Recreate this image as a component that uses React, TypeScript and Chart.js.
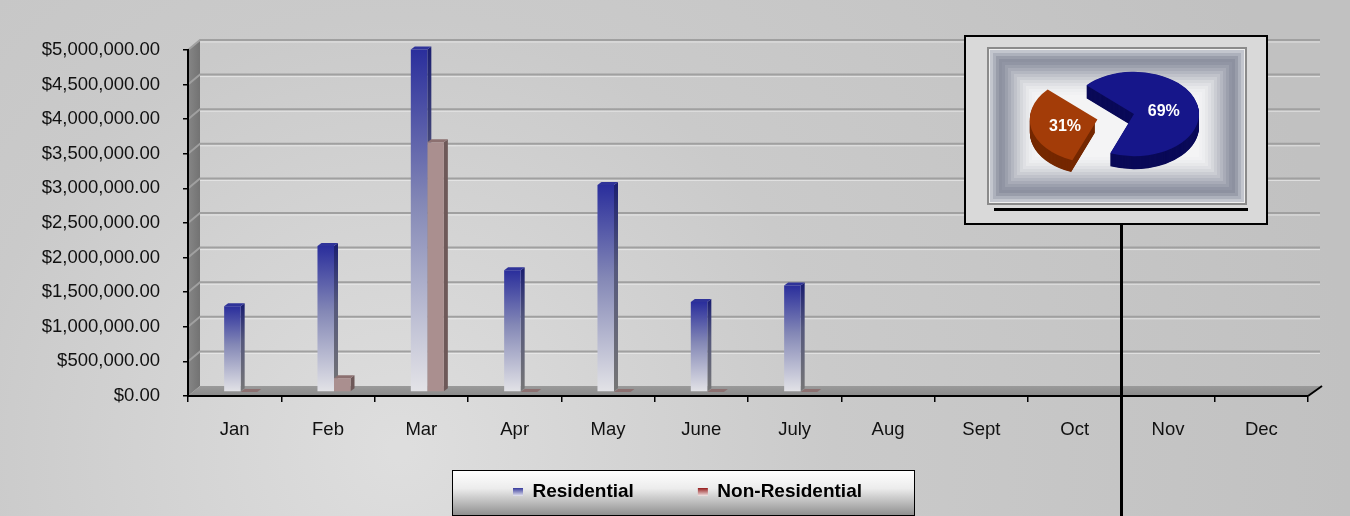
import React, { useEffect, useRef } from 'react';
import { Chart, registerables } from 'chart.js';

Chart.register(...registerables);

// ---------- data ----------
const months = ['Jan', 'Feb', 'Mar', 'Apr', 'May', 'June', 'July', 'Aug', 'Sept', 'Oct', 'Nov', 'Dec'];
const residential = [1240000, 2110000, 4950000, 1760000, 2990000, 1300000, 1540000, null, null, null, null, null];
const nonResidential = [0, 200000, 3610000, 0, 0, 0, 0, null, null, null, null, null];
const seriesNames = ['Residential', 'Non-Residential'];
const yMax = 5000000;
const yStep = 500000;
const pieShares = [69, 31];

// ---------- style ----------
const FONT = "'Liberation Sans', Arial, Helvetica, sans-serif";
const DX = 12; // wall depth x
const DY = -10; // wall depth y
const BX = 6; // bar shift (mid depth)
const BY = -4;
const BDX = 4; // bar depth
const BDY = -3;
const PIE_TILT = 0.65;
const PIE_DEPTH = 13;
const PIE_SIZE = 300;
const PIE_CX = 1134;
const PIE_CY = 114;
const legendSwatchTop = ['#363a9c', '#961c1c'];
const legendSwatchBottom = ['#e6e6f0', '#f2e6e6'];
const pieTop = ['#16168a', '#a33c08'];
const pieSide = ['#0a0a58', '#752800'];
const frameBands = ['#c3c6ce', '#adb1bc', '#999daa', '#8d91a0', '#9195a4', '#9ca0ad', '#a8abb7', '#b4b7c1', '#c0c2ca', '#cbcdd3', '#d6d8dc', '#dfe0e4', '#e7e8ea', '#edeef0', '#f1f1f3', '#f4f4f5'];

const money = (v: number) =>
  '$' + Number(v).toLocaleString('en-US', { minimumFractionDigits: 2, maximumFractionDigits: 2 });

const scenePlugin = {
  id: 'scene3d',
  beforeDraw(chart: any) {
    const { ctx, chartArea: a, width, height } = chart;
    ctx.save();
    const bg = ctx.createRadialGradient(400, 450, 10, 400, 450, 950);
    bg.addColorStop(0, '#dedede');
    bg.addColorStop(0.45, '#cacaca');
    bg.addColorStop(1, '#c1c1c1');
    ctx.fillStyle = bg;
    ctx.fillRect(0, 0, width, height);

    // legend frame + gradient swatches
    const lg = chart.legend;
    if (lg && lg.legendHitBoxes && lg.legendHitBoxes.length) {
      const hb = lg.legendHitBoxes;
      const l = hb[0].left;
      const r = hb[hb.length - 1].left + hb[hb.length - 1].width;
      const cx = (l + r) / 2 - 4.5;
      const cy = hb[0].top + hb[0].height / 2;
      const bw = 462;
      const bh = 45;
      const x0 = Math.round(cx - bw / 2) + 0.5;
      const y0 = Math.round(cy - 22.5) + 0.5;
      const lgG = ctx.createLinearGradient(0, y0, 0, y0 + bh);
      lgG.addColorStop(0, '#ffffff');
      lgG.addColorStop(0.4, '#ececec');
      lgG.addColorStop(1, '#8e8e8e');
      ctx.fillStyle = lgG;
      ctx.fillRect(x0, y0, bw, bh);
      ctx.strokeStyle = '#000';
      ctx.lineWidth = 1;
      ctx.strokeRect(x0, y0, bw, bh);
      (lg.legendItems || []).forEach((item: any, i: number) => {
        const h = hb[i];
        if (!h) return;
        const top = h.top + (h.height - 8) / 2;
        const g = ctx.createLinearGradient(0, top, 0, top + 8);
        g.addColorStop(0, legendSwatchTop[i]);
        g.addColorStop(1, legendSwatchBottom[i]);
        item.fillStyle = g;
        item.strokeStyle = 'rgba(0,0,0,0)';
      });
    }

    const L = a.left, R = a.right, T = a.top, B = a.bottom;
    // left wall
    const wg = ctx.createLinearGradient(L, 0, L + DX, 0);
    wg.addColorStop(0, '#868686');
    wg.addColorStop(1, '#737373');
    ctx.fillStyle = wg;
    ctx.beginPath();
    ctx.moveTo(L, B);
    ctx.lineTo(L + DX, B + DY);
    ctx.lineTo(L + DX, T + DY);
    ctx.lineTo(L, T);
    ctx.closePath();
    ctx.fill();
    // floor
    const fg = ctx.createLinearGradient(0, B + DY, 0, B);
    fg.addColorStop(0, '#9a9a9a');
    fg.addColorStop(1, '#8a8a8a');
    ctx.fillStyle = fg;
    ctx.beginPath();
    ctx.moveTo(L, B);
    ctx.lineTo(R, B);
    ctx.lineTo(R + DX, B + DY);
    ctx.lineTo(L + DX, B + DY);
    ctx.closePath();
    ctx.fill();
    // back-wall grid lines
    const ys = chart.scales.y;
    ys.ticks.forEach((t: any) => {
      if (t.value === 0) return;
      const y = ys.getPixelForValue(t.value);
      ctx.strokeStyle = 'rgba(240,240,240,0.7)';
      ctx.lineWidth = 1;
      ctx.beginPath();
      ctx.moveTo(L + DX, y + DY + 2);
      ctx.lineTo(R + DX, y + DY + 2);
      ctx.stroke();
      ctx.strokeStyle = '#a0a0a0';
      ctx.lineWidth = 2;
      ctx.beginPath();
      ctx.moveTo(L, y);
      ctx.lineTo(L + DX, y + DY);
      ctx.lineTo(R + DX, y + DY);
      ctx.stroke();
    });
    ctx.restore();
  },
  beforeDatasetsDraw(chart: any) {
    const { ctx } = chart;
    ctx.save();
    ctx.translate(BX, BY);
    chart.data.datasets.forEach((ds: any, di: number) => {
      const meta = chart.getDatasetMeta(di);
      meta.data.forEach((el: any, i: number) => {
        const v = ds.data[i];
        if (v == null) return;
        const { x, y, base, width } = el.getProps(['x', 'y', 'base', 'width'], true);
        if (!isFinite(y)) return;
        const l = x - width / 2;
        const r = x + width / 2;
        let side: any;
        if (di === 0) {
          side = ctx.createLinearGradient(0, y, 0, base);
          side.addColorStop(0, '#1c2070');
          side.addColorStop(0.4, '#55587c');
          side.addColorStop(1, '#767676');
        } else {
          side = '#6e5959';
        }
        ctx.fillStyle = side;
        ctx.beginPath();
        ctx.moveTo(r, y);
        ctx.lineTo(r + BDX, y + BDY);
        ctx.lineTo(r + BDX, base + BDY);
        ctx.lineTo(r, base);
        ctx.closePath();
        ctx.fill();
        ctx.fillStyle = di === 0 ? '#2f3399' : '#8c7070';
        ctx.beginPath();
        ctx.moveTo(l, y);
        ctx.lineTo(l + BDX, y + BDY);
        ctx.lineTo(r + BDX, y + BDY);
        ctx.lineTo(r, y);
        ctx.closePath();
        ctx.fill();
      });
    });
  },
  afterDatasetsDraw(chart: any) {
    chart.ctx.restore();
  },
  afterDraw(chart: any) {
    const { ctx, chartArea: a } = chart;
    ctx.save();
    // axis end diagonal
    ctx.strokeStyle = '#000';
    ctx.lineWidth = 2;
    ctx.beginPath();
    ctx.moveTo(a.right, a.bottom);
    ctx.lineTo(a.right + DX + 2, a.bottom + DY);
    ctx.stroke();
    // inset box
    ctx.fillStyle = '#d9d9d9';
    ctx.fillRect(965, 36, 302, 188);
    ctx.lineWidth = 2;
    ctx.strokeRect(965, 36, 302, 188);
    // inner framed panel with concentric bands
    const fx = 987, fy = 47, fw = 260, fh = 158;
    ctx.fillStyle = '#8a8a8a';
    ctx.fillRect(fx, fy, fw, fh);
    ctx.fillStyle = '#eeeeee';
    ctx.fillRect(fx + 2, fy + 2, fw - 4, fh - 4);
    frameBands.forEach((col, i) => {
      const k = 3 + i * 3;
      ctx.fillStyle = col;
      ctx.fillRect(fx + k, fy + k, fw - 2 * k, fh - 2 * k);
    });
    // shadow under inner frame
    ctx.fillStyle = '#000';
    ctx.fillRect(994, 208, 254, 3);
    // pointer line
    ctx.fillRect(1120, 224, 3, 300);
    ctx.restore();
  },
};

const arcShift = (el: any) => {
  const off = (el.options.offset || 0) / 4;
  const fix = 1 - Math.sin(Math.min(Math.PI, el.circumference || 0));
  return off * (1 + fix);
};

const piePlugin = {
  id: 'pie3d',
  beforeDatasetsDraw(chart: any) {
    const { ctx } = chart;
    const meta = chart.getDatasetMeta(0);
    const cx = meta.data[0].x;
    const cy = meta.data[0].y;
    ctx.save();
    ctx.translate(cx, cy);
    ctx.scale(1, PIE_TILT);
    ctx.translate(-cx, -cy);
    for (let d = PIE_DEPTH; d > 0; d -= 0.5) {
      meta.data.forEach((el: any, i: number) => {
        const { x, y, startAngle, endAngle, outerRadius } = el;
        if (!(outerRadius > 0)) return;
        const t = arcShift(el);
        const mid = (startAngle + endAngle) / 2;
        const px = x + Math.cos(mid) * t;
        const py = y + Math.sin(mid) * t + d / PIE_TILT;
        ctx.fillStyle = pieSide[i];
        ctx.beginPath();
        ctx.moveTo(px, py);
        ctx.arc(px, py, outerRadius, startAngle, endAngle);
        ctx.closePath();
        ctx.fill();
      });
    }
  },
  afterDatasetsDraw(chart: any) {
    const { ctx } = chart;
    ctx.restore();
    const meta = chart.getDatasetMeta(0);
    const ds = chart.data.datasets[0];
    ctx.save();
    ctx.fillStyle = '#ffffff';
    ctx.font = `bold 16px ${FONT}`;
    ctx.textAlign = 'center';
    ctx.textBaseline = 'middle';
    meta.data.forEach((el: any, i: number) => {
      const { x, y, startAngle, endAngle, outerRadius } = el;
      const t = arcShift(el);
      const mid = (startAngle + endAngle) / 2;
      const dist = t + 0.47 * outerRadius;
      const lx = x + Math.cos(mid) * dist;
      const ly = y + Math.sin(mid) * dist * PIE_TILT + 2;
      ctx.fillText(`${ds.data[i]}%`, lx, ly);
    });
    ctx.restore();
  },
};

export default function App() {
  const mainRef = useRef<HTMLCanvasElement>(null);
  const pieRef = useRef<HTMLCanvasElement>(null);

  useEffect(() => {
    const main = new Chart(mainRef.current as HTMLCanvasElement, {
      type: 'bar',
      data: {
        labels: months,
        datasets: [
          {
            label: seriesNames[0],
            data: residential,
            backgroundColor: (c: any) => {
              const chart = c.chart;
              const ys = chart.scales && chart.scales.y;
              const v = c.raw;
              if (!ys || v == null || c.type !== 'data') return '#5a5fb0';
              const top = ys.getPixelForValue(v);
              const base = ys.getPixelForValue(0);
              if (!isFinite(top) || base - top < 1) return '#2c3199';
              const g = chart.ctx.createLinearGradient(0, top, 0, base);
              g.addColorStop(0, '#2a2e9c');
              g.addColorStop(0.45, '#8488b6');
              g.addColorStop(1, '#e3e3e7');
              return g;
            },
            borderWidth: 0,
            categoryPercentage: 0.354,
            barPercentage: 1,
            clip: false,
          } as any,
          {
            label: seriesNames[1],
            data: nonResidential,
            backgroundColor: '#aa8f8f',
            borderWidth: 0,
            categoryPercentage: 0.354,
            barPercentage: 1,
            clip: false,
          } as any,
        ],
      },
      options: {
        responsive: false,
        animation: false,
        events: [],
        layout: { padding: { left: 25, right: 0, top: 50, bottom: 4.5 } },
        plugins: {
          tooltip: { enabled: false },
          legend: {
            display: true,
            position: 'bottom',
            labels: {
              font: { family: FONT, size: 19, weight: 'bold' },
              color: '#000',
              boxWidth: 10,
              boxHeight: 8,
              padding: 64,
              generateLabels: () =>
                seriesNames.map((n, i) => ({
                  text: n,
                  fillStyle: legendSwatchTop[i],
                  strokeStyle: 'rgba(0,0,0,0)',
                  lineWidth: 0,
                  hidden: false,
                  datasetIndex: i,
                })),
            },
          },
        },
        scales: {
          x: {
            grid: { display: true, drawOnChartArea: false, drawTicks: true, tickLength: 6, color: '#000', lineWidth: 1.5, offset: true },
            border: { display: true, color: '#000', width: 2 },
            ticks: { font: { family: FONT, size: 18.5 }, color: '#111', padding: -45, mirror: true, maxRotation: 0, autoSkip: false },
            afterFit: (s: any) => {
              s.height = 22.5;
            },
          },
          y: {
            min: 0,
            max: yMax,
            ticks: { stepSize: yStep, callback: (v: any) => money(v), font: { family: FONT, size: 18.5 }, color: '#111', padding: 23 },
            grid: { display: true, drawOnChartArea: false, drawTicks: true, tickLength: 5, color: '#000', lineWidth: 1.5 },
            border: { display: true, color: '#000', width: 2 },
            afterFit: (s: any) => {
              s.width = 163;
            },
          },
          yRight: {
            type: 'linear',
            position: 'right',
            display: true,
            grid: { display: false, drawTicks: false },
            border: { display: false },
            ticks: { display: false },
            afterFit: (s: any) => {
              s.width = 42;
            },
          },
        },
      } as any,
      plugins: [scenePlugin],
    });

    const pie = new Chart(pieRef.current as HTMLCanvasElement, {
      type: 'pie',
      data: {
        labels: seriesNames,
        datasets: [
          {
            data: pieShares,
            backgroundColor: pieTop,
            borderWidth: 0,
            offset: [0, 150],
            radius: 65,
            rotation: -47,
            clip: false,
          } as any,
        ],
      },
      options: {
        responsive: false,
        animation: false,
        events: [],
        rotation: -47,
        layout: { padding: 0 },
        plugins: { legend: { display: false }, tooltip: { enabled: false } },
      } as any,
      plugins: [piePlugin],
    });

    return () => {
      main.destroy();
      pie.destroy();
    };
  }, []);

  return (
    <div style={{ position: 'absolute', left: 0, top: 0, width: 1350, height: 516, overflow: 'hidden' }}>
      <canvas ref={mainRef} width={1350} height={516} style={{ position: 'absolute', left: 0, top: 0 }} />
      <canvas
        ref={pieRef}
        width={PIE_SIZE}
        height={PIE_SIZE}
        style={{ position: 'absolute', left: PIE_CX - PIE_SIZE / 2, top: PIE_CY - PIE_SIZE / 2 }}
      />
    </div>
  );
}
